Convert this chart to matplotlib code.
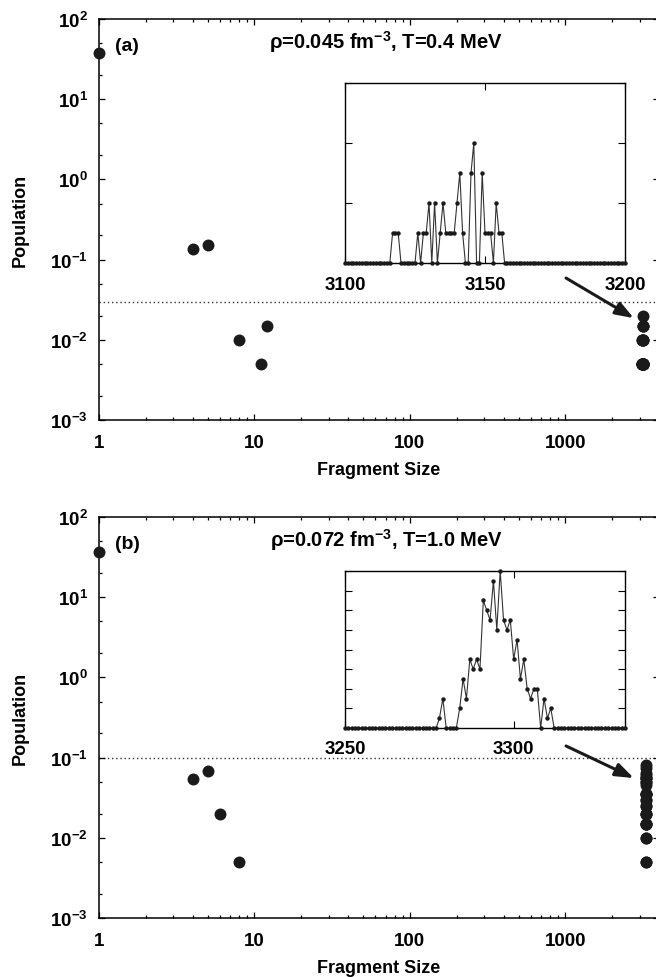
import numpy as np
import matplotlib
matplotlib.use("Agg")
import matplotlib.pyplot as plt
from matplotlib.ticker import FixedLocator, LogLocator, NullFormatter, MultipleLocator

plt.rcParams['font.family'] = ['Liberation Sans', 'DejaVu Sans']
plt.rcParams['font.weight'] = 'bold'
plt.rcParams['axes.labelweight'] = 'bold'
plt.rcParams['axes.unicode_minus'] = False

# panel (a): rho=0.045 fm^-3, T=0.4 MeV
size_a = [1, 4, 5, 8, 11, 12]
pop_a = [37.6, 0.135, 0.15, 0.01, 0.005, 0.015]
cluster_size_a = list(range(3100, 3201))
cluster_pop_a = [
    0, 0, 0, 0, 0, 0, 0, 0, 0, 0,                                  # 3100
    0, 0, 0, 0, 0, 0, 0, .005, .005, .005,                         # 3110
    0, 0, 0, 0, 0, 0, .005, 0, .005, .005,                         # 3120
    .01, 0, .01, 0, .005, .01, .005, .005, .005, .005,             # 3130
    .01, .015, .005, 0, 0, .015, .02, 0, 0, .015,                  # 3140
    .005, .005, .005, 0, .01, .005, .005, 0, 0, 0,                 # 3150
    0, 0, 0, 0, 0, 0, 0, 0, 0, 0,                                  # 3160
    0, 0, 0, 0, 0, 0, 0, 0, 0, 0,                                  # 3170
    0, 0, 0, 0, 0, 0, 0, 0, 0, 0,                                  # 3180
    0, 0, 0, 0, 0, 0, 0, 0, 0, 0,                                  # 3190
    0,                                                             # 3200
]
cut_a = 0.03

# panel (b): rho=0.072 fm^-3, T=1.0 MeV
size_b = [1, 4, 5, 6, 8]
pop_b = [36.8, 0.054, 0.068, 0.02, 0.005]
cluster_size_b = list(range(3250, 3334))
cluster_pop_b = [
    0, 0, 0, 0, 0, 0, 0, 0, 0, 0,                                  # 3250
    0, 0, 0, 0, 0, 0, 0, 0, 0, 0,                                  # 3260
    0, 0, 0, 0, 0, 0, 0, 0, .005, .015,                            # 3270
    0, 0, 0, 0, .01, .025, .015, .035, .03, .035,                  # 3280
    .03, .065, .06, .055, .075, .05, .08, .055, .05, .055,         # 3290
    .035, .045, .025, .035, .02, .015, .02, .02, 0, .015,          # 3300
    .005, .01, 0, 0, 0, 0, 0, 0, 0, 0,                             # 3310
    0, 0, 0, 0, 0, 0, 0, 0, 0, 0,                                  # 3320
    0, 0, 0, 0,                                                    # 3330
]
cut_b = 0.1

dark = '#1a1a1a'
W, H = 656, 978
fig = plt.figure(figsize=(W / 100, H / 100), dpi=100)


def px(l, t, r, b):
    return [l / W, 1 - b / H, (r - l) / W, (b - t) / H]


def main_panel(ax, sizes, pops, csize, cpop, cut, tag, title, arrow):
    xs = sizes + [s for s, p in zip(csize, cpop) if p > 0]
    ys = pops + [p for p in cpop if p > 0]
    ax.plot(xs, ys, 'o', color=dark, ms=8.6, mew=0, clip_on=False, zorder=3)
    ax.set_xscale('log')
    ax.set_yscale('log')
    ax.set_xlim(1, 4000)
    ax.set_ylim(1e-3, 1e2)
    ax.axhline(cut, color='#333333', lw=1.0, ls=(0, (1, 2.0)), zorder=1)
    ax.xaxis.set_major_locator(FixedLocator([1, 10, 100, 1000]))
    ax.set_xticklabels(['1', '10', '100', '1000'])
    ax.xaxis.set_minor_locator(LogLocator(base=10, subs=np.arange(2, 10)))
    ax.xaxis.set_minor_formatter(NullFormatter())
    ax.yaxis.set_major_locator(LogLocator(base=10, numticks=10))
    ax.yaxis.set_minor_locator(LogLocator(base=10, subs=[2, 5], numticks=10))
    ax.yaxis.set_minor_formatter(NullFormatter())
    ax.tick_params(which='both', direction='in', top=True, right=True, width=0.9)
    ax.tick_params(which='major', length=4.5, labelsize=13.5)
    ax.tick_params(axis='x', which='major', pad=10)
    ax.tick_params(axis='y', which='major', pad=8)
    ax.tick_params(which='minor', length=2.3)
    for sp in ax.spines.values():
        sp.set_linewidth(1.1)
    ax.set_xlabel('Fragment Size', fontsize=13)
    ax.set_ylabel('Population', fontsize=13)
    ax.xaxis.set_label_coords(0.5, -0.103)
    ax.yaxis.set_label_coords(-0.125, 0.5)
    ax.text(0.05, 0.935, tag, transform=ax.transAxes, fontsize=14,
            ha='center', va='center')
    ax.text(0.513, 0.945, title, transform=ax.transAxes, fontsize=14.5,
            ha='center', va='center')
    ax.annotate('', xy=arrow[1], xytext=arrow[0], xycoords='axes fraction',
                arrowprops=dict(arrowstyle='-|>,head_length=0.55,head_width=0.2',
                                lw=2.2, color=dark, mutation_scale=20,
                                shrinkA=0, shrinkB=0), zorder=4)


def inset_panel(ax, csize, cpop, xlim, xticks, ymax, ystep):
    ax.plot(csize, cpop, '-', color='#333333', lw=0.8, zorder=2)
    ax.plot(csize, cpop, 'o', color=dark, ms=3.2, mew=0, clip_on=False, zorder=3)
    ax.set_xlim(*xlim)
    ax.set_ylim(0, ymax)
    ax.set_xticks(xticks)
    ax.yaxis.set_major_locator(MultipleLocator(ystep))
    ax.set_yticklabels([])
    ax.tick_params(which='both', direction='in', top=True, right=True,
                   length=5, width=0.8, labelsize=13.5, pad=9)
    for sp in ax.spines.values():
        sp.set_linewidth(1.0)


ax_a = fig.add_axes(px(99, 20, 659, 421))
ax_b = fig.add_axes(px(99, 518, 659, 919))
in_a = fig.add_axes(px(345, 84, 625, 264))
in_b = fig.add_axes(px(345, 572, 625, 729))

main_panel(ax_a, size_a, pop_a, cluster_size_a, cluster_pop_a, cut_a, '(a)',
           'ρ=0.045 fm$^{\\mathdefault{-3}}$, T=0.4 MeV',
           ((0.834, 0.354), (0.955, 0.254)))
main_panel(ax_b, size_b, pop_b, cluster_size_b, cluster_pop_b, cut_b, '(b)',
           'ρ=0.072 fm$^{\\mathdefault{-3}}$, T=1.0 MeV',
           ((0.834, 0.429), (0.955, 0.349)))

inset_panel(in_a, cluster_size_a, cluster_pop_a, (3100, 3200), [3100, 3150, 3200], 0.03, 0.01)
inset_panel(in_b, cluster_size_b, cluster_pop_b, (3250, 3333), [3250, 3300], 0.08, 0.01)

fig.savefig('out.png', dpi=100)
